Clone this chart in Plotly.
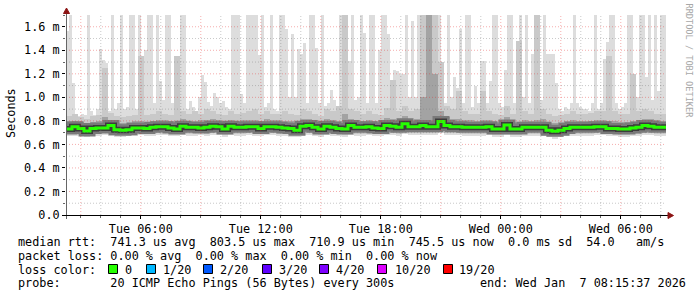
import plotly.graph_objects as go
from datetime import datetime, timedelta

# ---------------- data ----------------
END = datetime(2026, 1, 7, 8, 15, 37)
START = END - timedelta(hours=30)

# maximum ping per 9-minute column (ms); values above 1.7 are clipped by the axis
max_ms = [
    1.56, 1.75, 1.12, 0.86, 0.84, 0.86, 0.85, 1.75, 0.88, 0.85,
    0.90, 1.41, 1.32, 1.29, 0.88, 1.75, 0.90, 0.95, 1.75, 0.90,
    0.92, 1.75, 1.75, 0.90, 1.75, 0.95, 1.40, 1.75, 1.75, 0.95,
    1.75, 1.14, 0.98, 1.75, 1.75, 0.95, 1.05, 1.35, 1.75, 1.75,
    0.90, 0.97, 0.92, 0.88, 1.00, 1.19, 1.13, 0.96, 0.93, 1.04,
    1.00, 0.95, 0.97, 0.92, 0.90, 1.75, 1.75, 1.75, 1.03, 0.95,
    1.75, 1.75, 1.75, 1.75, 1.36, 1.75, 0.92, 0.95, 1.75, 0.90,
    0.88, 1.75, 1.75, 1.58, 1.00, 1.54, 1.00, 1.41, 1.37, 1.46,
    0.95, 1.75, 1.75, 1.42, 0.95, 1.75, 0.93, 0.95, 1.06, 0.98,
    0.92, 1.75, 1.75, 1.00, 1.31, 1.75, 0.98, 1.00, 1.75, 1.55,
    0.95, 1.75, 1.75, 0.95, 1.40, 1.75, 1.75, 1.54, 0.98, 1.23,
    1.22, 1.20, 1.20, 1.75, 1.00, 1.65, 1.00, 1.75, 1.75, 1.75,
    1.75, 1.75, 1.75, 1.75, 1.75, 1.00, 0.95, 1.75, 1.00, 1.17,
    1.08, 1.58, 0.95, 1.75, 1.75, 0.92, 1.10, 0.95, 1.31, 1.31,
    0.95, 1.14, 1.75, 1.75, 0.95, 0.92, 1.23, 1.75, 1.75, 0.95,
    0.95, 1.75, 1.00, 1.75, 0.95, 1.37, 0.95, 1.75, 0.98, 1.75,
    1.37, 1.37, 1.37, 1.12, 0.90, 0.88, 0.92, 0.90, 0.95, 1.75,
    0.95, 0.92, 0.90, 0.90, 0.88, 0.95, 1.75, 0.90, 0.95, 1.33,
    1.47, 1.75, 1.75, 0.95, 0.90, 0.92, 0.95, 1.75, 1.75, 1.08,
    1.00, 1.75, 1.75, 1.17, 1.75, 0.98, 1.75, 1.05, 1.75, 1.75,
]

# per 18-minute column (ms)
median_ms = [
    0.730, 0.750, 0.735, 0.715, 0.735, 0.740, 0.740, 0.760, 0.725, 0.720,
    0.725, 0.740, 0.740, 0.735, 0.745, 0.750, 0.750, 0.740, 0.730, 0.755,
    0.745, 0.745, 0.740, 0.745, 0.755, 0.750, 0.730, 0.755, 0.745, 0.745,
    0.750, 0.750, 0.735, 0.750, 0.750, 0.745, 0.740, 0.735, 0.720, 0.755,
    0.760, 0.745, 0.730, 0.755, 0.745, 0.735, 0.730, 0.760, 0.745, 0.745,
    0.750, 0.740, 0.735, 0.760, 0.755, 0.745, 0.775, 0.750, 0.750, 0.760,
    0.750, 0.750, 0.795, 0.760, 0.750, 0.750, 0.745, 0.745, 0.745, 0.745,
    0.750, 0.730, 0.730, 0.765, 0.730, 0.730, 0.745, 0.745, 0.745, 0.745,
    0.720, 0.712, 0.720, 0.735, 0.745, 0.745, 0.745, 0.745, 0.750, 0.750,
    0.735, 0.735, 0.730, 0.730, 0.740, 0.745, 0.760, 0.755, 0.745, 0.745,
]
min_ms = [
    0.67, 0.67, 0.68, 0.66, 0.67, 0.67, 0.68, 0.67, 0.66, 0.66,
    0.67, 0.67, 0.68, 0.67, 0.67, 0.68, 0.68, 0.67, 0.67, 0.68,
    0.67, 0.67, 0.68, 0.67, 0.68, 0.68, 0.66, 0.68, 0.67, 0.67,
    0.68, 0.67, 0.67, 0.68, 0.68, 0.67, 0.67, 0.66, 0.66, 0.68,
    0.68, 0.67, 0.66, 0.68, 0.67, 0.67, 0.66, 0.68, 0.67, 0.67,
    0.68, 0.67, 0.67, 0.68, 0.68, 0.67, 0.69, 0.68, 0.68, 0.68,
    0.68, 0.68, 0.70, 0.68, 0.68, 0.68, 0.67, 0.67, 0.67, 0.67,
    0.68, 0.66, 0.66, 0.68, 0.66, 0.66, 0.67, 0.67, 0.67, 0.67,
    0.66, 0.65, 0.66, 0.67, 0.67, 0.67, 0.67, 0.67, 0.68, 0.68,
    0.67, 0.67, 0.66, 0.66, 0.67, 0.67, 0.68, 0.68, 0.67, 0.67,
]
lo2_ms = [
    0.69, 0.70, 0.69, 0.68, 0.69, 0.69, 0.70, 0.70, 0.68, 0.68,
    0.69, 0.69, 0.70, 0.69, 0.70, 0.70, 0.70, 0.69, 0.69, 0.70,
    0.69, 0.70, 0.70, 0.69, 0.70, 0.70, 0.68, 0.70, 0.69, 0.69,
    0.70, 0.70, 0.69, 0.70, 0.70, 0.69, 0.69, 0.68, 0.68, 0.70,
    0.70, 0.69, 0.68, 0.70, 0.69, 0.69, 0.68, 0.70, 0.69, 0.69,
    0.70, 0.69, 0.69, 0.70, 0.70, 0.69, 0.71, 0.70, 0.70, 0.70,
    0.70, 0.70, 0.72, 0.70, 0.70, 0.70, 0.69, 0.69, 0.69, 0.69,
    0.70, 0.68, 0.68, 0.70, 0.68, 0.68, 0.69, 0.69, 0.69, 0.69,
    0.68, 0.67, 0.68, 0.69, 0.69, 0.69, 0.69, 0.69, 0.70, 0.70,
    0.69, 0.69, 0.68, 0.68, 0.69, 0.69, 0.70, 0.70, 0.69, 0.69,
]
lo3_ms = [
    0.705, 0.715, 0.705, 0.690, 0.705, 0.710, 0.710, 0.720, 0.700, 0.695,
    0.700, 0.710, 0.712, 0.705, 0.715, 0.718, 0.718, 0.710, 0.700, 0.720,
    0.712, 0.715, 0.710, 0.712, 0.720, 0.718, 0.700, 0.720, 0.712, 0.714,
    0.718, 0.716, 0.705, 0.718, 0.716, 0.712, 0.708, 0.705, 0.695, 0.720,
    0.725, 0.712, 0.700, 0.720, 0.712, 0.705, 0.700, 0.725, 0.712, 0.714,
    0.716, 0.708, 0.705, 0.725, 0.720, 0.712, 0.735, 0.718, 0.716, 0.722,
    0.715, 0.716, 0.745, 0.725, 0.716, 0.715, 0.712, 0.712, 0.712, 0.710,
    0.716, 0.700, 0.700, 0.728, 0.700, 0.700, 0.712, 0.712, 0.712, 0.712,
    0.695, 0.690, 0.695, 0.705, 0.712, 0.712, 0.712, 0.712, 0.716, 0.716,
    0.705, 0.705, 0.700, 0.700, 0.708, 0.712, 0.725, 0.720, 0.712, 0.712,
]
hi3_ms = [
    0.790, 0.800, 0.790, 0.775, 0.790, 0.800, 0.830, 0.810, 0.785, 0.780,
    0.785, 0.795, 0.800, 0.790, 0.800, 0.805, 0.810, 0.800, 0.790, 0.820,
    0.800, 0.800, 0.810, 0.805, 0.815, 0.810, 0.790, 0.810, 0.800, 0.805,
    0.810, 0.810, 0.795, 0.815, 0.810, 0.805, 0.800, 0.800, 0.790, 0.815,
    0.820, 0.805, 0.795, 0.815, 0.810, 0.800, 0.860, 0.820, 0.810, 0.800,
    0.805, 0.800, 0.800, 0.825, 0.815, 0.810, 0.840, 0.810, 0.820, 1.000,
    1.750, 1.200, 0.880, 0.830, 0.815, 0.815, 0.810, 0.805, 0.800, 0.810,
    0.810, 0.790, 0.790, 0.830, 0.790, 0.790, 0.805, 0.800, 0.810, 0.820,
    0.785, 0.780, 0.790, 0.795, 0.805, 0.800, 0.800, 0.800, 0.810, 0.810,
    0.795, 0.800, 0.790, 0.790, 0.800, 0.805, 0.820, 0.815, 0.805, 0.800,
]
hi2_ms = [
    0.840, 0.860, 0.830, 0.820, 0.840, 0.850, 1.250, 0.870, 0.840, 0.830,
    0.840, 0.850, 1.350, 0.850, 0.860, 0.880, 0.860, 0.850, 1.350, 0.880,
    0.860, 0.880, 0.860, 0.900, 0.880, 0.860, 0.850, 0.880, 0.860, 0.870,
    0.880, 0.900, 0.860, 0.880, 0.860, 0.860, 0.880, 0.860, 0.850, 0.900,
    0.880, 0.860, 0.840, 0.900, 0.880, 0.930, 1.750, 0.900, 0.880, 0.860,
    0.880, 0.860, 0.850, 0.910, 1.150, 0.880, 0.930, 0.880, 0.900, 1.750,
    1.750, 1.750, 1.300, 0.930, 0.900, 1.050, 0.880, 0.860, 0.860, 1.050,
    0.880, 0.860, 0.850, 0.930, 0.860, 1.480, 0.880, 0.860, 1.700, 0.900,
    0.860, 0.840, 0.850, 0.860, 0.880, 0.860, 0.860, 0.870, 0.880, 0.880,
    1.350, 0.880, 0.860, 0.860, 1.200, 0.880, 0.900, 0.880, 0.860, 0.860,
]

y_tick_vals = [0.0, 0.2, 0.4, 0.6, 0.8, 1.0, 1.2, 1.4, 1.6]
y_tick_text = ["0.0", "0.2 m", "0.4 m", "0.6 m", "0.8 m", "1.0 m", "1.2 m", "1.4 m", "1.6 m"]
x_tick_vals = [datetime(2026, 1, 6, 6), datetime(2026, 1, 6, 12), datetime(2026, 1, 6, 18),
               datetime(2026, 1, 7, 0), datetime(2026, 1, 7, 6)]
x_tick_text = ["Tue 06:00", "Tue 12:00", "Tue 18:00", "Wed 00:00", "Wed 06:00"]

legend_line1 = "median rtt:  741.3 us avg  803.5 us max  710.9 us min  745.5 us now  0.0 ms sd  54.0   am/s"
legend_line2 = "packet loss: 0.00 % avg  0.00 % max  0.00 % min  0.00 % now"
legend_line3 = "loss color:"
loss_labels = ["0", "1/20", "2/20", "3/20", "4/20", "10/20", "19/20"]
loss_colors = ["#26ff00", "#00b8ff", "#0059ff", "#5e00ff", "#7e00ff", "#dd00ff", "#ff0000"]
legend_line4 = "probe:       20 ICMP Echo Pings (56 Bytes) every 300s"
legend_end = "end: Wed Jan  7 08:15:37 2026"
watermark = "RRDTOOL / TOBI OETIKER"

# ---------------- layout constants ----------------
W, H = 697, 297
ML, MR, MT, MB = 66, 31, 15, 82
PW, PH = W - ML - MR, H - MT - MB
MONO = "DejaVu Sans Mono"
FS = 11.8


def px(xp):
    return (xp - ML) / PW


def py(yp):
    return (MT + PH - yp) / PH


def nb(s):
    return s.replace(" ", "\u00a0")


fine_step = (END - START) / len(max_ms)
coarse_step = (END - START) / len(median_ms)
fine_x = [START + fine_step * (k + 0.5) for k in range(len(max_ms))]
coarse_x = [START + coarse_step * (j + 0.5) for j in range(len(median_ms))]
ratio = len(max_ms) // len(median_ms)
fine_base = [min_ms[k // ratio] for k in range(len(max_ms))]
fine_w = fine_step.total_seconds() * 1000
coarse_w = coarse_step.total_seconds() * 1000


def band(xs, lo, hi, w, color):
    return go.Bar(x=xs, y=[h - l for h, l in zip(hi, lo)], base=lo, width=w,
                  marker=dict(color=color, line=dict(width=0)), hoverinfo="skip")


fig = go.Figure()
fig.add_trace(band(fine_x, fine_base, max_ms, fine_w, "#dddddd"))
fig.add_trace(band(coarse_x, min_ms, median_ms, coarse_w, "#dddddd"))
fig.add_trace(band(coarse_x, lo2_ms, hi2_ms, coarse_w, "#c9c9c9"))
fig.add_trace(band(coarse_x, lo3_ms, hi3_ms, coarse_w, "#a3a3a3"))

step_x = [START + coarse_step * j for j in range(len(median_ms))] + [END]
step_y = median_ms + [median_ms[-1]]
fig.add_trace(go.Scatter(x=step_x, y=step_y, mode="lines", line=dict(color="#7a7a7a", width=11, shape="hv"),
                         hoverinfo="skip"))
fig.add_trace(go.Scatter(x=step_x, y=step_y, mode="lines", line=dict(color="#3c3c3c", width=6, shape="hv"),
                         hoverinfo="skip"))
fig.add_trace(go.Scatter(x=step_x, y=step_y, mode="lines", line=dict(color=loss_colors[0], width=3, shape="hv"),
                         hoverinfo="skip"))

shapes = []
# grid (drawn above the smoke, dotted like rrdtool)
MAJ = "rgba(230,40,40,0.38)"
MIN = "rgba(120,120,120,0.40)"
yv = 0.1
while yv < 1.65:
    major = any(abs(yv - t) < 1e-6 for t in y_tick_vals)
    shapes.append(dict(type="line", xref="paper", yref="y", x0=0, x1=1, y0=yv, y1=yv, layer="above",
                       line=dict(color=MAJ if major else MIN, width=1, dash="1px,2px")))
    yv = round(yv + 0.1, 2)
t = START.replace(minute=0, second=0) + timedelta(hours=1)
while t < END:
    shapes.append(dict(type="line", xref="x", yref="paper", x0=t, x1=t, y0=0, y1=1, layer="above",
                       line=dict(color=MAJ if t.hour % 3 == 0 else MIN, width=1, dash="1px,2px")))
    t += timedelta(hours=1)

# axis lines and arrows
shapes.append(dict(type="line", xref="paper", yref="paper", x0=px(66.5), x1=px(66.5), y0=py(219), y1=py(12),
                   layer="above", line=dict(color="#666666", width=1)))
shapes.append(dict(type="line", xref="paper", yref="paper", x0=px(62), x1=px(669), y0=py(215.5), y1=py(215.5),
                   layer="above", line=dict(color="#000000", width=1)))
ARC = "#8c1414"
shapes.append(dict(type="path", xref="paper", yref="paper", layer="above", fillcolor=ARC, line=dict(color=ARC, width=1),
                   path=f"M {px(66.5)} {py(8)} L {px(63.5)} {py(13.5)} L {px(69.5)} {py(13.5)} Z"))
shapes.append(dict(type="path", xref="paper", yref="paper", layer="above", fillcolor=ARC, line=dict(color=ARC, width=1),
                   path=f"M {px(673.5)} {py(215.5)} L {px(668)} {py(212.5)} L {px(668)} {py(218.5)} Z"))

# loss colour boxes
box_x = [108, 146, 203, 262, 319, 377, 443]
lab_x = [123, 161, 218, 277, 334, 393, 457]
for bx, c in zip(box_x, loss_colors):
    shapes.append(dict(type="rect", xref="paper", yref="paper", x0=px(bx + 0.5), x1=px(bx + 9.5),
                       y0=py(273.5), y1=py(264.5), fillcolor=c, line=dict(color="#000000", width=1)))

ann = []
font = dict(family=MONO, size=FS, color="#000000")


def text_at(x, y, s, **kw):
    d = dict(xref="paper", yref="paper", x=px(x), y=py(y), text=nb(s), showarrow=False,
             xanchor="left", yanchor="middle", font=font)
    d.update(kw)
    ann.append(d)


text_at(16, 241.5, legend_line1)
text_at(16, 255.5, legend_line2)
text_at(16, 269.5, legend_line3)
for lx, lab in zip(lab_x, loss_labels):
    text_at(lx, 269.5, lab)
text_at(16, 283, legend_line4)
text_at(478, 283, legend_end)
ann.append(dict(xref="paper", yref="paper", x=px(11), y=py(113), text="Seconds", showarrow=False,
                textangle=-90, xanchor="center", yanchor="middle", font=font))
ann.append(dict(xref="paper", yref="paper", x=px(688.5), y=py(61), text=nb(watermark), showarrow=False,
                textangle=90, xanchor="center", yanchor="middle",
                font=dict(family=MONO, size=8.6, color="#a8a8a8")))

hour_ticks = []
t = START.replace(minute=0, second=0) + timedelta(hours=1)
while t < END:
    hour_ticks.append(t)
    t += timedelta(hours=1)

fig.update_layout(
    width=W, height=H, margin=dict(l=ML, r=MR, t=MT, b=MB, pad=0),
    paper_bgcolor="#ffffff", plot_bgcolor="#ffffff",
    barmode="overlay", bargap=0, showlegend=False,
    shapes=shapes, annotations=ann, hovermode=False,
    xaxis=dict(type="date", range=[START, END], showgrid=False, zeroline=False, showline=False,
               tickmode="array", tickvals=x_tick_vals, ticktext=x_tick_text,
               ticks="outside", ticklen=3, tickcolor="#000000", tickwidth=1,
               minor=dict(tickvals=hour_ticks, ticks="outside", ticklen=2, tickcolor="#666666", showgrid=False),
               tickfont=dict(family=MONO, size=FS, color="#000000"), fixedrange=True),
    yaxis=dict(range=[0, 1.7], showgrid=False, zeroline=False, showline=False,
               tickmode="array", tickvals=y_tick_vals, ticktext=y_tick_text,
               ticks="outside", ticklen=3, tickcolor="#000000", tickwidth=1,
               minor=dict(dtick=0.1, ticks="outside", ticklen=2, tickcolor="#666666", showgrid=False),
               tickfont=dict(family=MONO, size=FS, color="#000000"), fixedrange=True),
)

fig.write_html("out.html", config={"displayModeBar": False, "staticPlot": True})
